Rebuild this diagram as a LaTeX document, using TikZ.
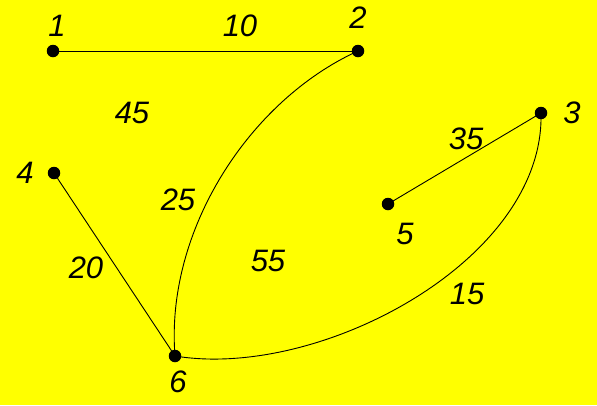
\documentclass[tikz,border=0pt]{standalone}
\usepackage{fontspec}
\setmainfont{Liberation Sans}
\definecolor{bgyellow}{RGB}{255,255,0}
\begin{document}
\begin{tikzpicture}[x=1pt,y=-1pt,
  vtx/.style={circle,fill=black,inner sep=0pt,minimum size=12.5pt},
  lbl/.style={font=\fontsize{31}{33}\selectfont\itshape,inner sep=0pt},
  edge/.style={line width=0.9pt}]
\fill[bgyellow] (0,0) rectangle (597,405);
\useasboundingbox (0,0) rectangle (597,405);
\node[vtx] (n1) at (53,51) {};
\node[vtx] (n2) at (358,51) {};
\node[vtx] (n3) at (541,113) {};
\node[vtx] (n4) at (54,173) {};
\node[vtx] (n5) at (388,204) {};
\node[vtx] (n6) at (175,356) {};
\draw[edge] (n1.center) -- (n2.center);
\draw[edge] (n4.center) -- (n6.center);
\draw[edge] (n5.center) -- (n3.center);
\draw[edge] (n2.center) .. controls (250,100) and (165,230) .. (n6.center);
\draw[edge] (n6.center) .. controls (320,380) and (545,260) .. (n3.center);
\node[lbl] (t1) at (57,26) {1};
\node[lbl] (t2) at (358,18) {2};
\node[lbl] (t3) at (572,113) {3};
\node[lbl] (t4) at (25,173) {4};
\node[lbl] (t5) at (405,234) {5};
\node[lbl] (t6) at (178,382) {6};
\node[lbl] (e10) at (240,26) {10};
\node[lbl] (e45) at (132,113) {45};
\node[lbl] (e35) at (466,139) {35};
\node[lbl] (e25) at (178,200) {25};
\node[lbl] (e55) at (268,261) {55};
\node[lbl] (e20) at (86,268) {20};
\node[lbl] (e15) at (467,294) {15};
\end{tikzpicture}
\end{document}
